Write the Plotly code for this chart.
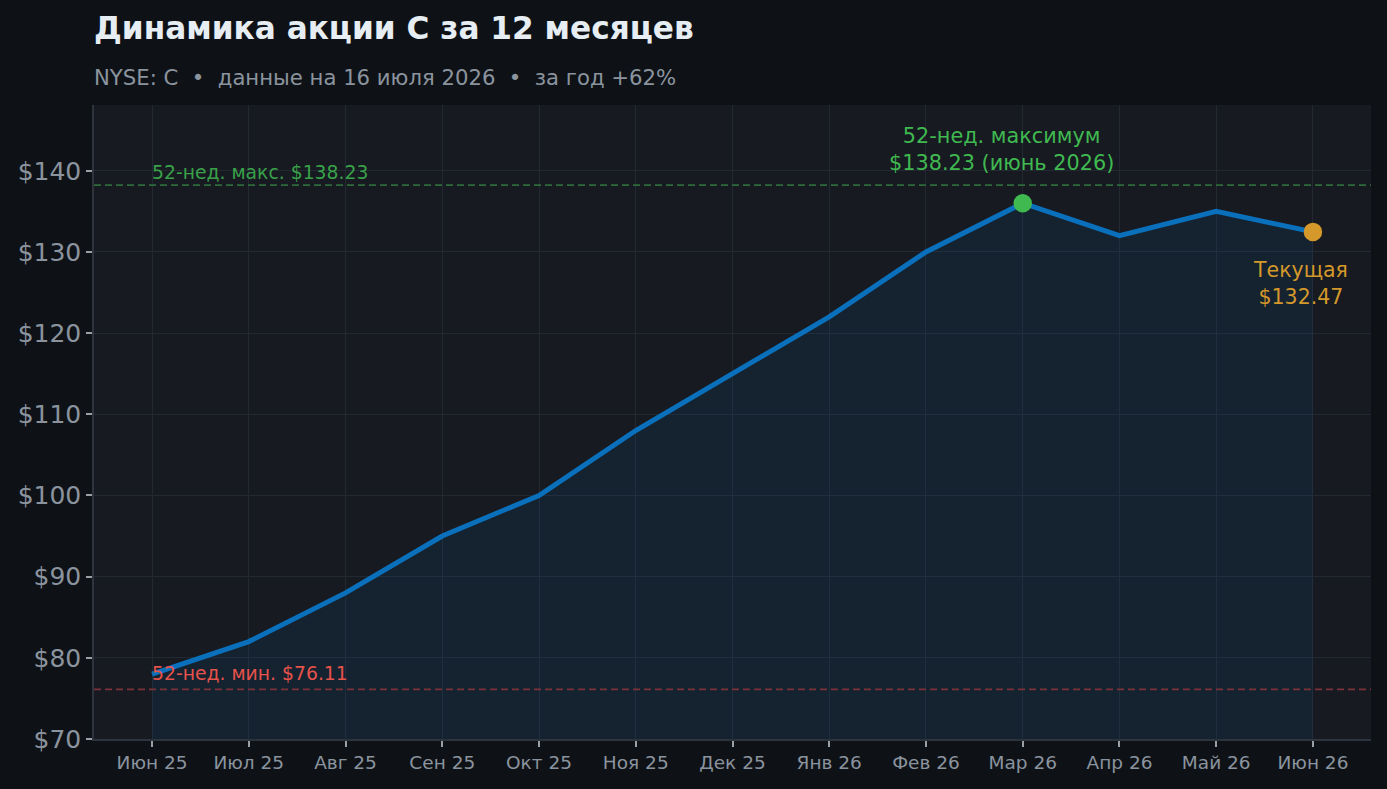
import plotly.graph_objects as go

months = ["Июн 25", "Июл 25", "Авг 25", "Сен 25", "Окт 25", "Ноя 25", "Дек 25",
          "Янв 26", "Фев 26", "Мар 26", "Апр 26", "Май 26", "Июн 26"]
prices = [78.0, 82.0, 88.0, 95.0, 100.0, 108.0, 115.0, 122.0, 130.0, 136.0, 132.0, 135.0, 132.47]
high_52w = 138.23
low_52w = 76.11
peak_idx = 9
current_idx = 12
y_ticks = [70, 80, 90, 100, 110, 120, 130, 140]

BG = "#0e1217"
PLOT_BG = "#171a21"
GRID = "#232933"
TXT = "#8b949e"
LINE = "#0a70bc"
GREEN = "#3fb950"
ORANGE = "#d4992a"
RED = "#e5534b"
FONT = "DejaVu Sans"
NB = "\u00a0"

x_idx = list(range(len(months)))

fig = go.Figure()
fig.add_trace(go.Scatter(
    x=x_idx, y=prices, mode="lines",
    line=dict(color=LINE, width=5),
    fill="tozeroy", fillcolor="rgba(11,111,186,0.10)",
    hoverinfo="skip", showlegend=False))
fig.add_trace(go.Scatter(
    x=[x_idx[peak_idx]], y=[prices[peak_idx]], mode="markers",
    marker=dict(color=GREEN, size=18.5), showlegend=False))
fig.add_trace(go.Scatter(
    x=[x_idx[current_idx]], y=[prices[current_idx]], mode="markers",
    marker=dict(color=ORANGE, size=18.5), showlegend=False))

fig.add_shape(type="line", xref="paper", yref="y", x0=0, x1=1, y0=high_52w, y1=high_52w,
              line=dict(color="#2f6b3a", width=1.8, dash="7px,4px"))
fig.add_shape(type="line", xref="paper", yref="y", x0=0, x1=1, y0=low_52w, y1=low_52w,
              line=dict(color="#7b3339", width=1.8, dash="7px,4px"))

sub = f"NYSE: C{NB}{NB}•{NB}{NB}данные на 16 июля 2026{NB}{NB}•{NB}{NB}за год +62%"

anns = [
    dict(x=0, y=high_52w, xref="x", yref="y", text=f"52-нед. макс. ${high_52w:.2f}",
         showarrow=False, xanchor="left", yanchor="bottom", yshift=0, xshift=-2,
         font=dict(color=GREEN, size=18.8, family=FONT), opacity=0.85),
    dict(x=0, y=low_52w, xref="x", yref="y", text=f"52-нед. мин. ${low_52w:.2f}",
         showarrow=False, xanchor="left", yanchor="bottom", yshift=3, xshift=-2,
         font=dict(color=RED, size=18.8, family=FONT)),
    dict(x=peak_idx, y=prices[peak_idx], xref="x", yref="y",
         text=f"52-нед. максимум<br>${high_52w:.2f} (июнь 2026)",
         showarrow=False, xanchor="center", yanchor="bottom", yshift=26, xshift=-21,
         font=dict(color=GREEN, size=20.8, family=FONT)),
    dict(x=current_idx, y=prices[current_idx], xref="x", yref="y",
         text=f"Текущая<br>${prices[current_idx]:.2f}",
         showarrow=False, xanchor="center", yanchor="top", yshift=-24, xshift=-12,
         font=dict(color=ORANGE, size=20.5, family=FONT)),
    dict(x=92, y=28, xref="paper", yref="paper", text="<b>Динамика акции C за 12 месяцев</b>",
         showarrow=False, xanchor="left", yanchor="middle",
         font=dict(color="#e6edf3", size=31.2, family=FONT)),
    dict(x=92, y=77, xref="paper", yref="paper", text=sub,
         showarrow=False, xanchor="left", yanchor="middle",
         font=dict(color=TXT, size=21.2, family=FONT)),
]
W, H = 1387, 789
ML, MR, MT, MB = 94, 16, 105, 50
pw, ph = W - ML - MR, H - MT - MB
for a in anns:
    if a["xref"] == "paper":
        a["x"] = (a["x"] - ML) / pw
        a["y"] = (H - MB - a["y"]) / ph

fig.update_layout(
    width=W, height=H,
    margin=dict(l=ML, r=MR, t=MT, b=MB),
    paper_bgcolor=BG, plot_bgcolor=PLOT_BG,
    font=dict(family=FONT, color=TXT),
    annotations=anns,
    showlegend=False,
)
fig.update_xaxes(
    range=[-0.6, 12.6], tickmode="array", tickvals=x_idx, ticktext=months,
    showgrid=True, gridcolor=GRID, gridwidth=1, zeroline=False,
    showline=True, linecolor="#2e343d", linewidth=1.5,
    ticks="outside", ticklen=6, tickcolor="#9aa0a8", tickwidth=1.5,
    tickfont=dict(size=18.5, color=TXT, family=FONT), fixedrange=True)
fig.update_yaxes(
    range=[70, 148.1], tickmode="array", tickvals=y_ticks,
    ticktext=[f"${v}" for v in y_ticks],
    showgrid=True, gridcolor=GRID, gridwidth=1, zeroline=False,
    showline=True, linecolor="#2e343d", linewidth=1.5,
    ticks="outside", ticklen=6, tickcolor="#9aa0a8", tickwidth=1.5,
    tickfont=dict(size=25, color=TXT, family=FONT), fixedrange=True)

fig.write_html("out.html", config={"displayModeBar": False},
               post_script="document.body.style.margin='0';document.body.style.background='#0e1217';")
